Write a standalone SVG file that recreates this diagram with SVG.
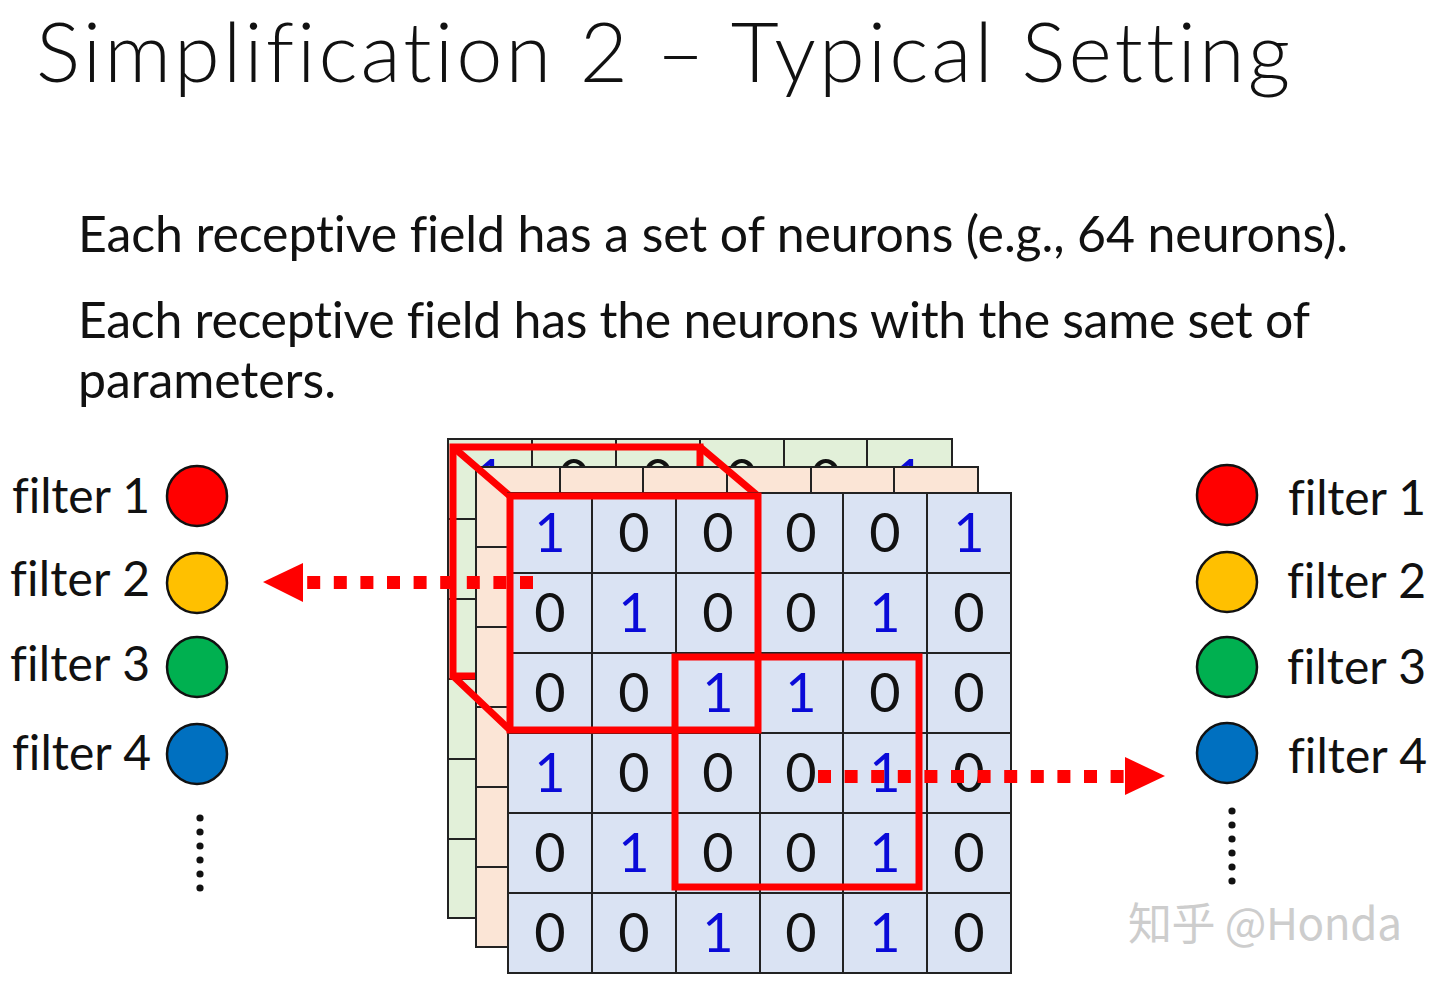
<svg xmlns="http://www.w3.org/2000/svg" width="1440" height="982" viewBox="0 0 1440 982">
<style>
text{font-family:Lato,"Open Sans","Liberation Sans",sans-serif;fill:#111;font-variant-ligatures:none;font-feature-settings:"liga" 0,"clig" 0}
.title{font-size:83px;font-weight:300}
.body{font-size:50px}
.lbl{font-size:48px}
.d{font-size:54px;text-anchor:middle}
.b{fill:#0a0ad8}
.grid{stroke:#222;stroke-width:2;fill:none}
.red{stroke:#f00;stroke-width:7;fill:none;stroke-linejoin:miter}
.dash{stroke:#f00;stroke-width:13;stroke-dasharray:13 13.6;fill:none}
.ah{fill:#f00}
.circ{stroke:#111;stroke-width:2.5}
.dot{fill:#111}
.wm{font-family:"Noto Sans CJK SC","Noto Sans",sans-serif;font-size:44px;fill:#cdcdcd}
</style>
<rect width="1440" height="982" fill="#fff"/>
<text class="title" x="36" y="82" textLength="1254">Simplification 2 – Typical Setting</text>
<text class="body" x="78" y="252" textLength="1270">Each receptive field has a set of neurons (e.g., 64 neurons).</text>
<text class="body" x="78" y="338" textLength="1232">Each receptive field has the neurons with the same set of</text>
<text class="body" x="78" y="398" textLength="258">parameters.</text>

<g id="grid-back">
<rect x="448" y="439" width="504" height="479" fill="#e2f0d9"/>
<g class="grid">
<rect x="448" y="439" width="504" height="479"/>
<path d="M532 439V918M616 439V918M700 439V918M784 439V918M867 439V918M448 519H952M448 599H952M448 679H952M448 759H952M448 839H952"/>
</g>
<text class="d b" x="490" y="498">1</text><text class="d" x="574" y="498">0</text><text class="d" x="658" y="498">0</text><text class="d" x="742" y="498">0</text><text class="d" x="826" y="498">0</text><text class="d b" x="909" y="498">1</text>
</g>
<rect class="red" x="453" y="447" width="247" height="229"/>
<g id="grid-middle">
<rect x="476" y="467" width="502" height="480" fill="#fbe5d6"/>
<g class="grid">
<rect x="476" y="467" width="502" height="480"/>
<path d="M560 467V947M643 467V947M727 467V947M811 467V947M894 467V947M476 547H978M476 627H978M476 707H978M476 787H978M476 867H978"/>
</g>
</g>
<path class="red" d="M453 447L510 496M700 447L758 496M453 676L510 730"/>
<g id="grid-front">
<rect x="508" y="493" width="503" height="480" fill="#dae3f3"/>
<g class="grid">
<rect x="508" y="493" width="503" height="480"/>
<path d="M592 493V973M676 493V973M760 493V973M843 493V973M927 493V973M508 573H1011M508 653H1011M508 733H1011M508 813H1011M508 893H1011"/>
</g>
<g>
<text class="d b" x="550" y="552">1</text><text class="d" x="634" y="552">0</text><text class="d" x="718" y="552">0</text><text class="d" x="801" y="552">0</text><text class="d" x="885" y="552">0</text><text class="d b" x="969" y="552">1</text>
<text class="d" x="550" y="632">0</text><text class="d b" x="634" y="632">1</text><text class="d" x="718" y="632">0</text><text class="d" x="801" y="632">0</text><text class="d b" x="885" y="632">1</text><text class="d" x="969" y="632">0</text>
<text class="d" x="550" y="712">0</text><text class="d" x="634" y="712">0</text><text class="d b" x="718" y="712">1</text><text class="d b" x="801" y="712">1</text><text class="d" x="885" y="712">0</text><text class="d" x="969" y="712">0</text>
<text class="d b" x="550" y="792">1</text><text class="d" x="634" y="792">0</text><text class="d" x="718" y="792">0</text><text class="d" x="801" y="792">0</text><text class="d b" x="885" y="792">1</text><text class="d" x="969" y="792">0</text>
<text class="d" x="550" y="872">0</text><text class="d b" x="634" y="872">1</text><text class="d" x="718" y="872">0</text><text class="d" x="801" y="872">0</text><text class="d b" x="885" y="872">1</text><text class="d" x="969" y="872">0</text>
<text class="d" x="550" y="952">0</text><text class="d" x="634" y="952">0</text><text class="d b" x="718" y="952">1</text><text class="d" x="801" y="952">0</text><text class="d b" x="885" y="952">1</text><text class="d" x="969" y="952">0</text>
</g>
</g>
<g id="receptive-fields">
<rect class="red" x="510" y="496" width="248" height="234"/>
<rect class="red" x="675" y="657" width="244" height="230"/>
</g>

<g id="filters-left">
<g id="lf1"><text class="lbl" x="12" y="513" textLength="138">filter 1</text><circle class="circ" cx="197" cy="496" r="30" fill="#f00"/></g>
<g id="lf2"><text class="lbl" x="10" y="596" textLength="140">filter 2</text><circle class="circ" cx="197" cy="583" r="30" fill="#ffc000"/></g>
<g id="lf3"><text class="lbl" x="10" y="681" textLength="140">filter 3</text><circle class="circ" cx="197" cy="667" r="30" fill="#00b050"/></g>
<g id="lf4"><text class="lbl" x="12" y="770" textLength="139">filter 4</text><circle class="circ" cx="197" cy="754" r="30" fill="#0070c0"/></g>
<g class="dot"><circle cx="200" cy="818" r="3.6"/><circle cx="200" cy="832" r="3.6"/><circle cx="200" cy="846" r="3.6"/><circle cx="200" cy="860" r="3.6"/><circle cx="200" cy="874" r="3.6"/><circle cx="200" cy="888" r="3.6"/></g>
</g>
<g id="filters-right">
<g id="rf1"><circle class="circ" cx="1227" cy="495" r="30" fill="#f00"/><text class="lbl" x="1288" y="515" textLength="138">filter 1</text></g>
<g id="rf2"><circle class="circ" cx="1227" cy="582" r="30" fill="#ffc000"/><text class="lbl" x="1287" y="598" textLength="139">filter 2</text></g>
<g id="rf3"><circle class="circ" cx="1227" cy="667" r="30" fill="#00b050"/><text class="lbl" x="1287" y="684" textLength="139">filter 3</text></g>
<g id="rf4"><circle class="circ" cx="1227" cy="753" r="30" fill="#0070c0"/><text class="lbl" x="1288" y="773" textLength="139">filter 4</text></g>
<g class="dot"><circle cx="1232" cy="811" r="3.6"/><circle cx="1232" cy="825" r="3.6"/><circle cx="1232" cy="839" r="3.6"/><circle cx="1232" cy="853" r="3.6"/><circle cx="1232" cy="867" r="3.6"/><circle cx="1232" cy="881" r="3.6"/></g>
</g>

<g id="connectors">
<path class="dash" d="M533 582.5H307"/>
<polygon class="ah" points="263,582 303,563 303,602"/>
<path class="dash" d="M818 776.5H1125"/>
<polygon class="ah" points="1165,776 1125,757 1125,795"/>
</g>

<text class="wm" x="1128" y="940" textLength="274">知乎 @Honda</text>
</svg>
